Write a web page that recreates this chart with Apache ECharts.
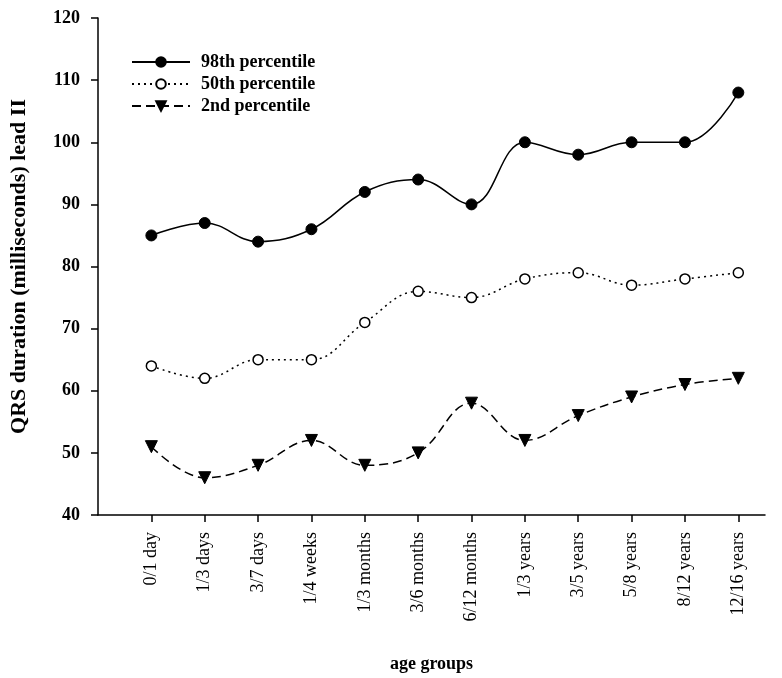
<!DOCTYPE html>
<html><head><meta charset="utf-8">
<script src="https://cdn.jsdelivr.net/npm/echarts@6/dist/echarts.min.js"></script>
<style>html,body{margin:0;padding:0;background:#fff}#c{width:782px;height:678px}</style>
</head><body><div id="c"></div>
<script>
const categories = ['0/1 day','1/3 days','3/7 days','1/4 weeks','1/3 months','3/6 months','6/12 months','1/3 years','3/5 years','5/8 years','8/12 years','12/16 years'];
const p98 = [85, 87, 84, 86, 92, 94, 90, 100, 98, 100, 100, 108];
const p50 = [64, 62, 65, 65, 71, 76, 75, 78, 79, 77, 78, 79];
const p2 = [51, 46, 48, 52, 48, 50, 58, 52, 56, 59, 61, 62];
const yTicks = [40, 50, 60, 70, 80, 90, 100, 110, 120];

const idx = categories.map((_, i) => i);
const toPairs = arr => arr.map((v, i) => [i, v]);
const font = '"Liberation Serif", "DejaVu Serif", serif';

const chart = echarts.init(document.getElementById('c'), null, {renderer: 'canvas'});
chart.setOption({
  animation: false,
  backgroundColor: '#fff',
  textStyle: {fontFamily: font, color: '#000'},
  grid: {left: 95, right: 17, top: 18, bottom: 157, containLabel: false},
  legend: {
    orient: 'vertical', left: 126, top: 48, itemGap: 4, itemWidth: 58, itemHeight: 12,
    textStyle: {fontFamily: font, fontSize: 18, fontWeight: 'bold', color: '#000', padding: [0, 0, 0, 6]},
    data: ['98th percentile', '50th percentile', '2nd percentile']
  },
  xAxis: {
    type: 'value', min: -1, max: 11.5, interval: 1,
    name: 'age groups', nameLocation: 'middle', nameGap: 140,
    nameTextStyle: {fontFamily: font, fontSize: 18, fontWeight: 'bold', color: '#000'},
    axisLine: {show: true, onZero: false, lineStyle: {color: '#000', width: 1.5}},
    axisTick: {show: true, length: 7, lineStyle: {color: '#000', width: 1.5}, customValues: idx},
    axisLabel: {
      customValues: idx, rotate: 90, margin: 17, fontFamily: font, fontSize: 18, color: '#000',
      formatter: v => categories[Math.round(v)] || ''
    },
    splitLine: {show: false}
  },
  yAxis: {
    type: 'value', min: 40, max: 120, interval: 10,
    name: 'QRS duration (milliseconds) lead II', nameLocation: 'middle', nameGap: 68,
    nameTextStyle: {fontFamily: font, fontSize: 22, fontWeight: 'bold', color: '#000'},
    axisLine: {show: true, onZero: false, lineStyle: {color: '#000', width: 1.5}},
    axisTick: {show: true, length: 7, lineStyle: {color: '#000', width: 1.5}, customValues: yTicks},
    axisLabel: {customValues: yTicks, margin: 18, fontFamily: font, fontSize: 18, fontWeight: 'bold', color: '#000'},
    splitLine: {show: false}
  },
  series: [
    {
      name: '98th percentile', type: 'line', smooth: 0.4, data: toPairs(p98),
      symbol: 'circle', symbolSize: 11,
      lineStyle: {color: '#000', width: 1.5, type: 'solid'},
      itemStyle: {color: '#000', borderColor: '#000', borderWidth: 1}
    },
    {
      name: '50th percentile', type: 'line', smooth: 0.4, data: toPairs(p50),
      symbol: 'circle', symbolSize: 10,
      lineStyle: {color: '#000', width: 1.5, type: [2, 4]},
      itemStyle: {color: '#fff', borderColor: '#000', borderWidth: 1.5}
    },
    {
      name: '2nd percentile', type: 'line', smooth: 0.4, data: toPairs(p2),
      symbol: 'triangle', symbolRotate: 180, symbolSize: 12,
      lineStyle: {color: '#000', width: 1.5, type: [9, 5]},
      itemStyle: {color: '#000', borderColor: '#000', borderWidth: 1}
    }
  ]
});
</script></body></html>
